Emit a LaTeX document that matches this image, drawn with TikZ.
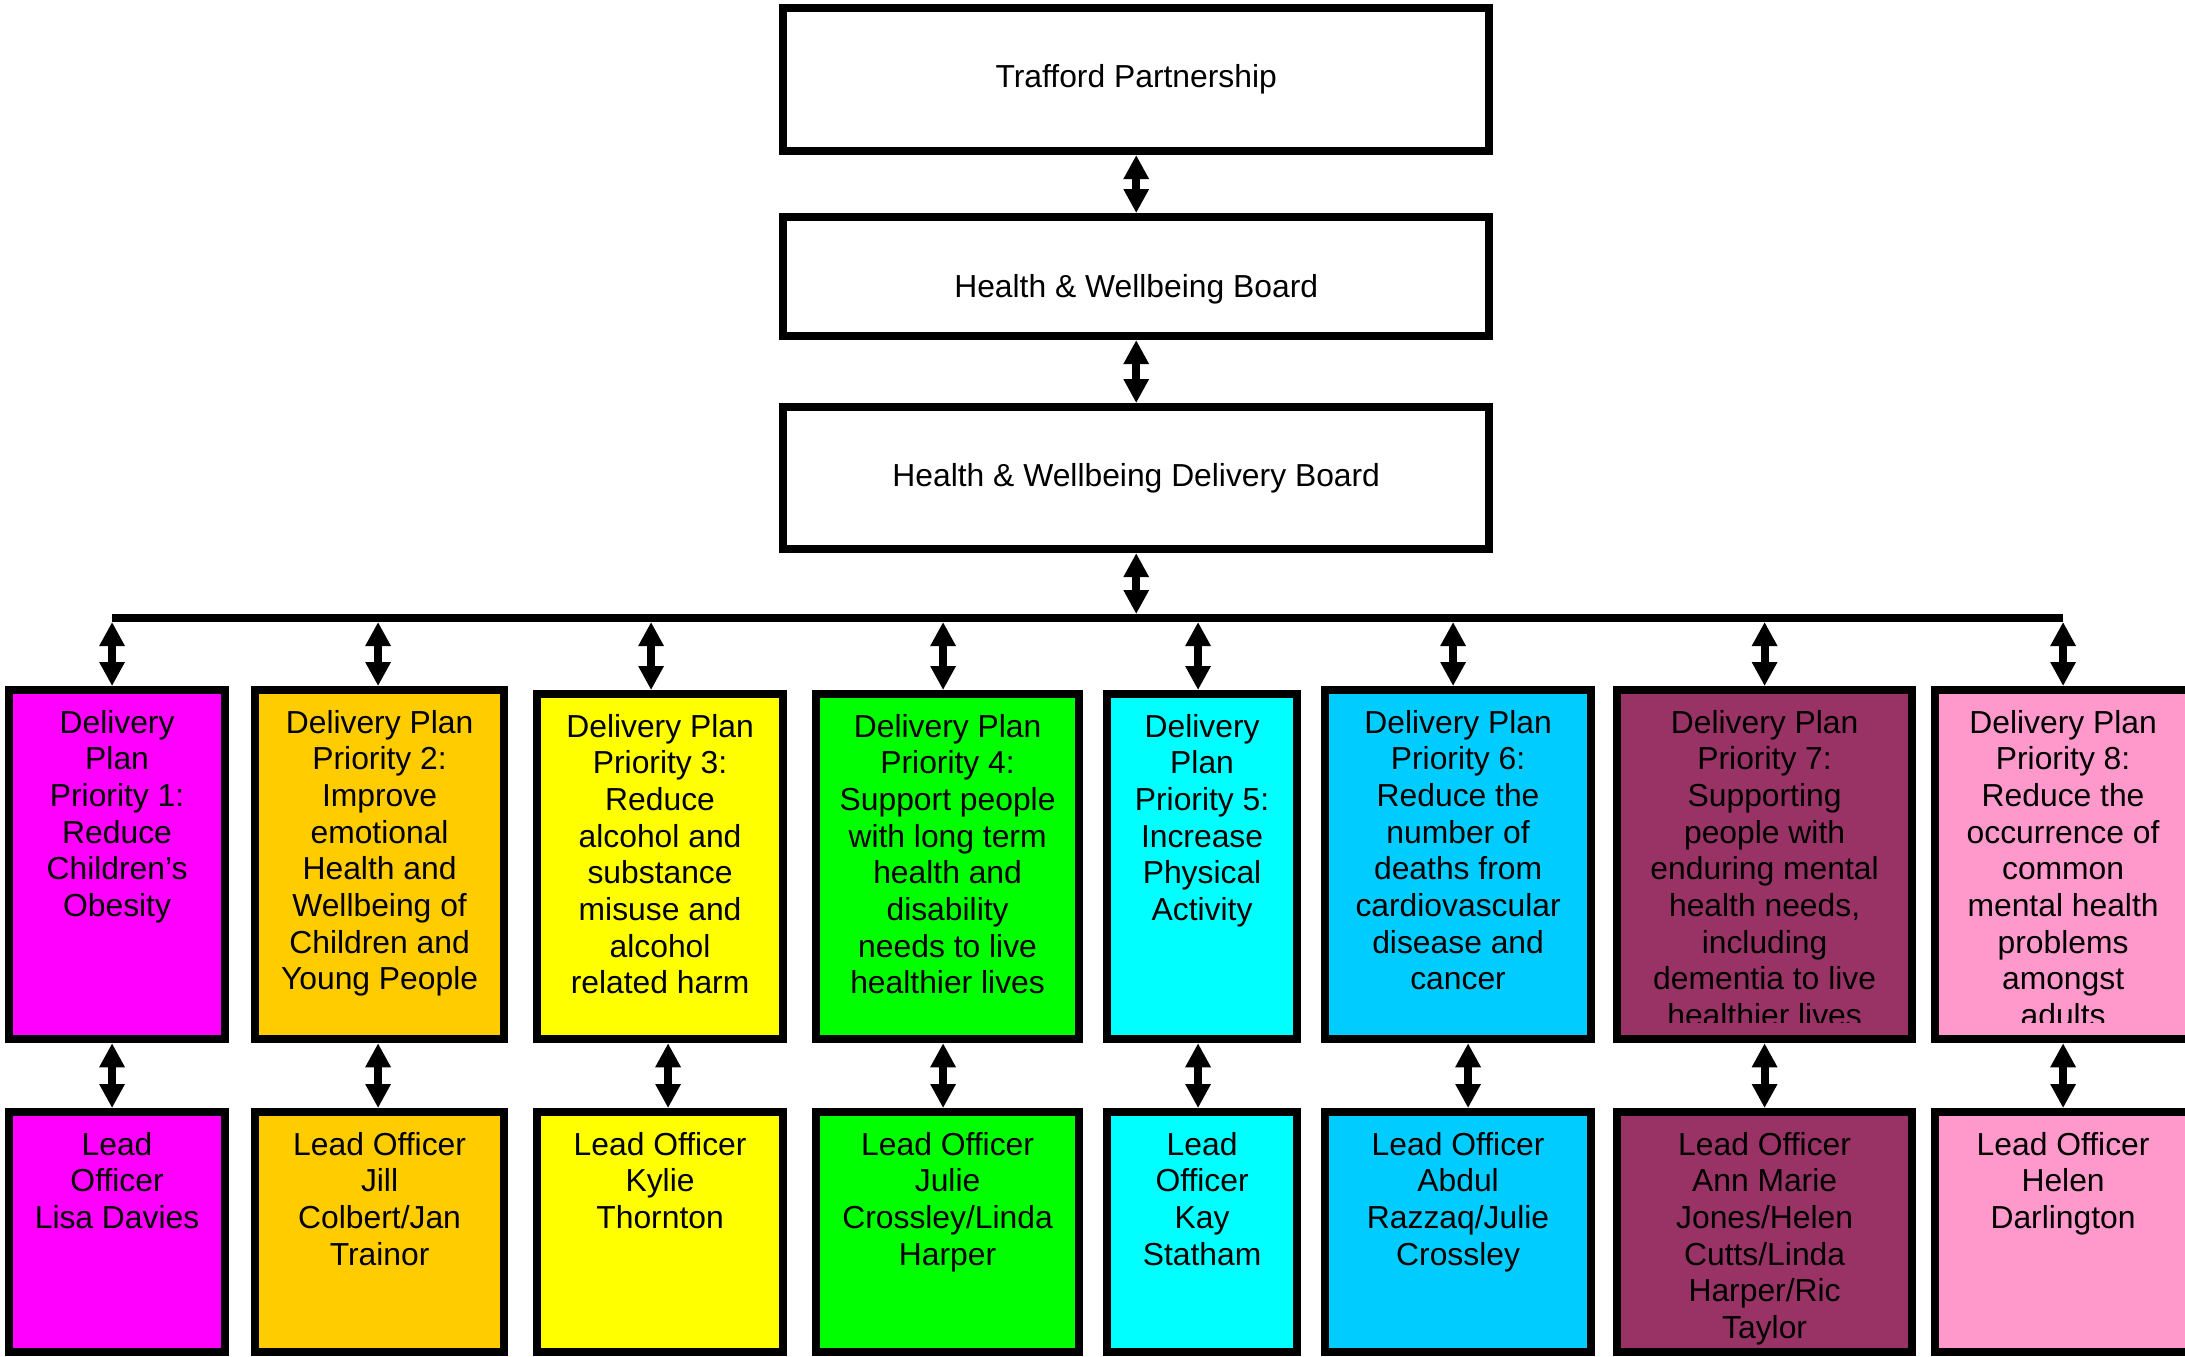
\documentclass[tikz,border=0pt]{standalone}
\usepackage{fontspec}
\setmainfont{Liberation Sans}
\usetikzlibrary{arrows.meta,calc}

\definecolor{pri1}{HTML}{FF00FF}
\definecolor{pri2}{HTML}{FFCC00}
\definecolor{pri3}{HTML}{FFFF00}
\definecolor{pri4}{HTML}{00FF00}
\definecolor{pri5}{HTML}{00FFFF}
\definecolor{pri6}{HTML}{00CCFF}
\definecolor{pri7}{HTML}{993366}
\definecolor{pri8}{HTML}{FF99CC}

\begin{document}
\begin{tikzpicture}[x=0.01cm, y=-0.01cm, font=\fontsize{9.05}{10.43}\selectfont,
    board/.style={draw, line width=0.08cm, inner sep=0pt, anchor=north west, minimum width=7.06cm},
    plan/.style={draw, line width=0.08cm, inner sep=0pt, anchor=north west, path picture={
        \clip ([yshift=0.17cm]path picture bounding box.south west) rectangle (path picture bounding box.north east);
        \node [anchor=base, inner sep=0pt] at ([yshift=-0.43cm]path picture bounding box.north) {\parbox[t]{4cm}{\centering #1}};}},
    lead/.style={draw, line width=0.08cm, inner sep=0pt, anchor=north west, minimum height=2.40cm, path picture={
        \node [anchor=base, inner sep=0pt] at ([yshift=-0.43cm]path picture bounding box.north) {\parbox[t]{4cm}{\centering #1}};}},
    link/.style={{Triangle[width=0.24cm,length=0.24cm]}-{Triangle[width=0.24cm,length=0.24cm]}, line width=0.08cm}]
    \useasboundingbox (0,0) rectangle (2185,1356);
    \clip (0,0) rectangle (2185,1356);

    % boards
    \begin{scope}[every node/.style={board}]
      \node [minimum height=1.43cm] (tp) at (779,4) {Trafford Partnership};
      \node [minimum height=1.19cm, text height=0.49cm, text depth=0.07cm] (hwb) at (779,213) {Health \& Wellbeing Board};
      \node [minimum height=1.42cm] (hwdb) at (779,403) {Health \& Wellbeing Delivery Board};
    \end{scope}

    % delivery plan priorities
    \node [plan={Delivery\\Plan\\Priority 1:\\Reduce\\Children’s\\Obesity}, fill=pri1, minimum width=2.16cm, minimum height=3.49cm] (dp1) at (5,686) {};
    \node [plan={Delivery Plan\\Priority 2:\\Improve\\emotional\\Health and\\Wellbeing of\\Children and\\Young People}, fill=pri2, minimum width=2.49cm, minimum height=3.49cm] (dp2) at (251,686) {};
    \node [plan={Delivery Plan\\Priority 3:\\Reduce\\alcohol and\\substance\\misuse and\\alcohol\\related harm}, fill=pri3, minimum width=2.46cm, minimum height=3.45cm] (dp3) at (533,690) {};
    \node [plan={Delivery Plan\\Priority 4:\\Support people\\with long term\\health and\\disability\\needs to live\\healthier lives}, fill=pri4, minimum width=2.63cm, minimum height=3.45cm] (dp4) at (812,690) {};
    \node [plan={Delivery\\Plan\\Priority 5:\\Increase\\Physical\\Activity}, fill=pri5, minimum width=1.90cm, minimum height=3.45cm] (dp5) at (1103,690) {};
    \node [plan={Delivery Plan\\Priority 6:\\Reduce the\\number of\\deaths from\\cardiovascular\\disease and\\cancer}, fill=pri6, minimum width=2.66cm, minimum height=3.49cm] (dp6) at (1321,686) {};
    \node [plan={Delivery Plan\\Priority 7:\\Supporting\\people with\\enduring mental\\health needs,\\including\\dementia to live\\healthier lives}, fill=pri7, minimum width=2.95cm, minimum height=3.49cm] (dp7) at (1613,686) {};
    \node [plan={Delivery Plan\\Priority 8:\\Reduce the\\occurrence of\\common\\mental health\\problems\\amongst\\adults}, fill=pri8, minimum width=2.56cm, minimum height=3.49cm] (dp8) at (1931,686) {};

    % lead officers
    \node [lead={Lead\\Officer\\Lisa Davies}, fill=pri1, minimum width=2.16cm] (lo1) at (5,1108) {};
    \node [lead={Lead Officer\\Jill\\Colbert/Jan\\Trainor}, fill=pri2, minimum width=2.49cm] (lo2) at (251,1108) {};
    \node [lead={Lead Officer\\Kylie\\Thornton}, fill=pri3, minimum width=2.46cm] (lo3) at (533,1108) {};
    \node [lead={Lead Officer\\Julie\\Crossley/Linda\\Harper}, fill=pri4, minimum width=2.63cm] (lo4) at (812,1108) {};
    \node [lead={Lead\\Officer\\Kay\\Statham}, fill=pri5, minimum width=1.90cm] (lo5) at (1103,1108) {};
    \node [lead={Lead Officer\\Abdul\\Razzaq/Julie\\Crossley}, fill=pri6, minimum width=2.66cm] (lo6) at (1321,1108) {};
    \node [lead={Lead Officer\\Ann Marie\\Jones/Helen\\Cutts/Linda\\Harper/Ric\\Taylor}, fill=pri7, minimum width=2.95cm] (lo7) at (1613,1108) {};
    \node [lead={Lead Officer\\Helen\\Darlington}, fill=pri8, minimum width=2.56cm] (lo8) at (1931,1108) {};

    % bus
    \coordinate (busL) at (112,618);
    \coordinate (busR) at (2063,618);
    \draw [line width=0.08cm] (busL) -- (busR);

    \begin{scope}[link]
      \draw (tp.south) to (hwb.north);
      \draw (hwb.south) to (hwdb.north);
      \draw (hwdb.south) to ($(hwdb.south |- busL)+(0,-4)$);
      \foreach \i/\u/\l in {1/-5/-5, 2/-1.5/-1.5, 3/-9/8, 4/-4.5/-4.5, 5/-4/-4, 6/-5/10, 7/0/0, 8/0/0} {
        \draw ($(dp\i.north)+(\u,0)$) to ($(dp\i.north |- busL)+(\u,4)$);
        \draw ($(dp\i.south)+(\l,0)$) to ($(lo\i.north)+(\l,0)$);
      }
    \end{scope}
\end{tikzpicture}
\end{document}
